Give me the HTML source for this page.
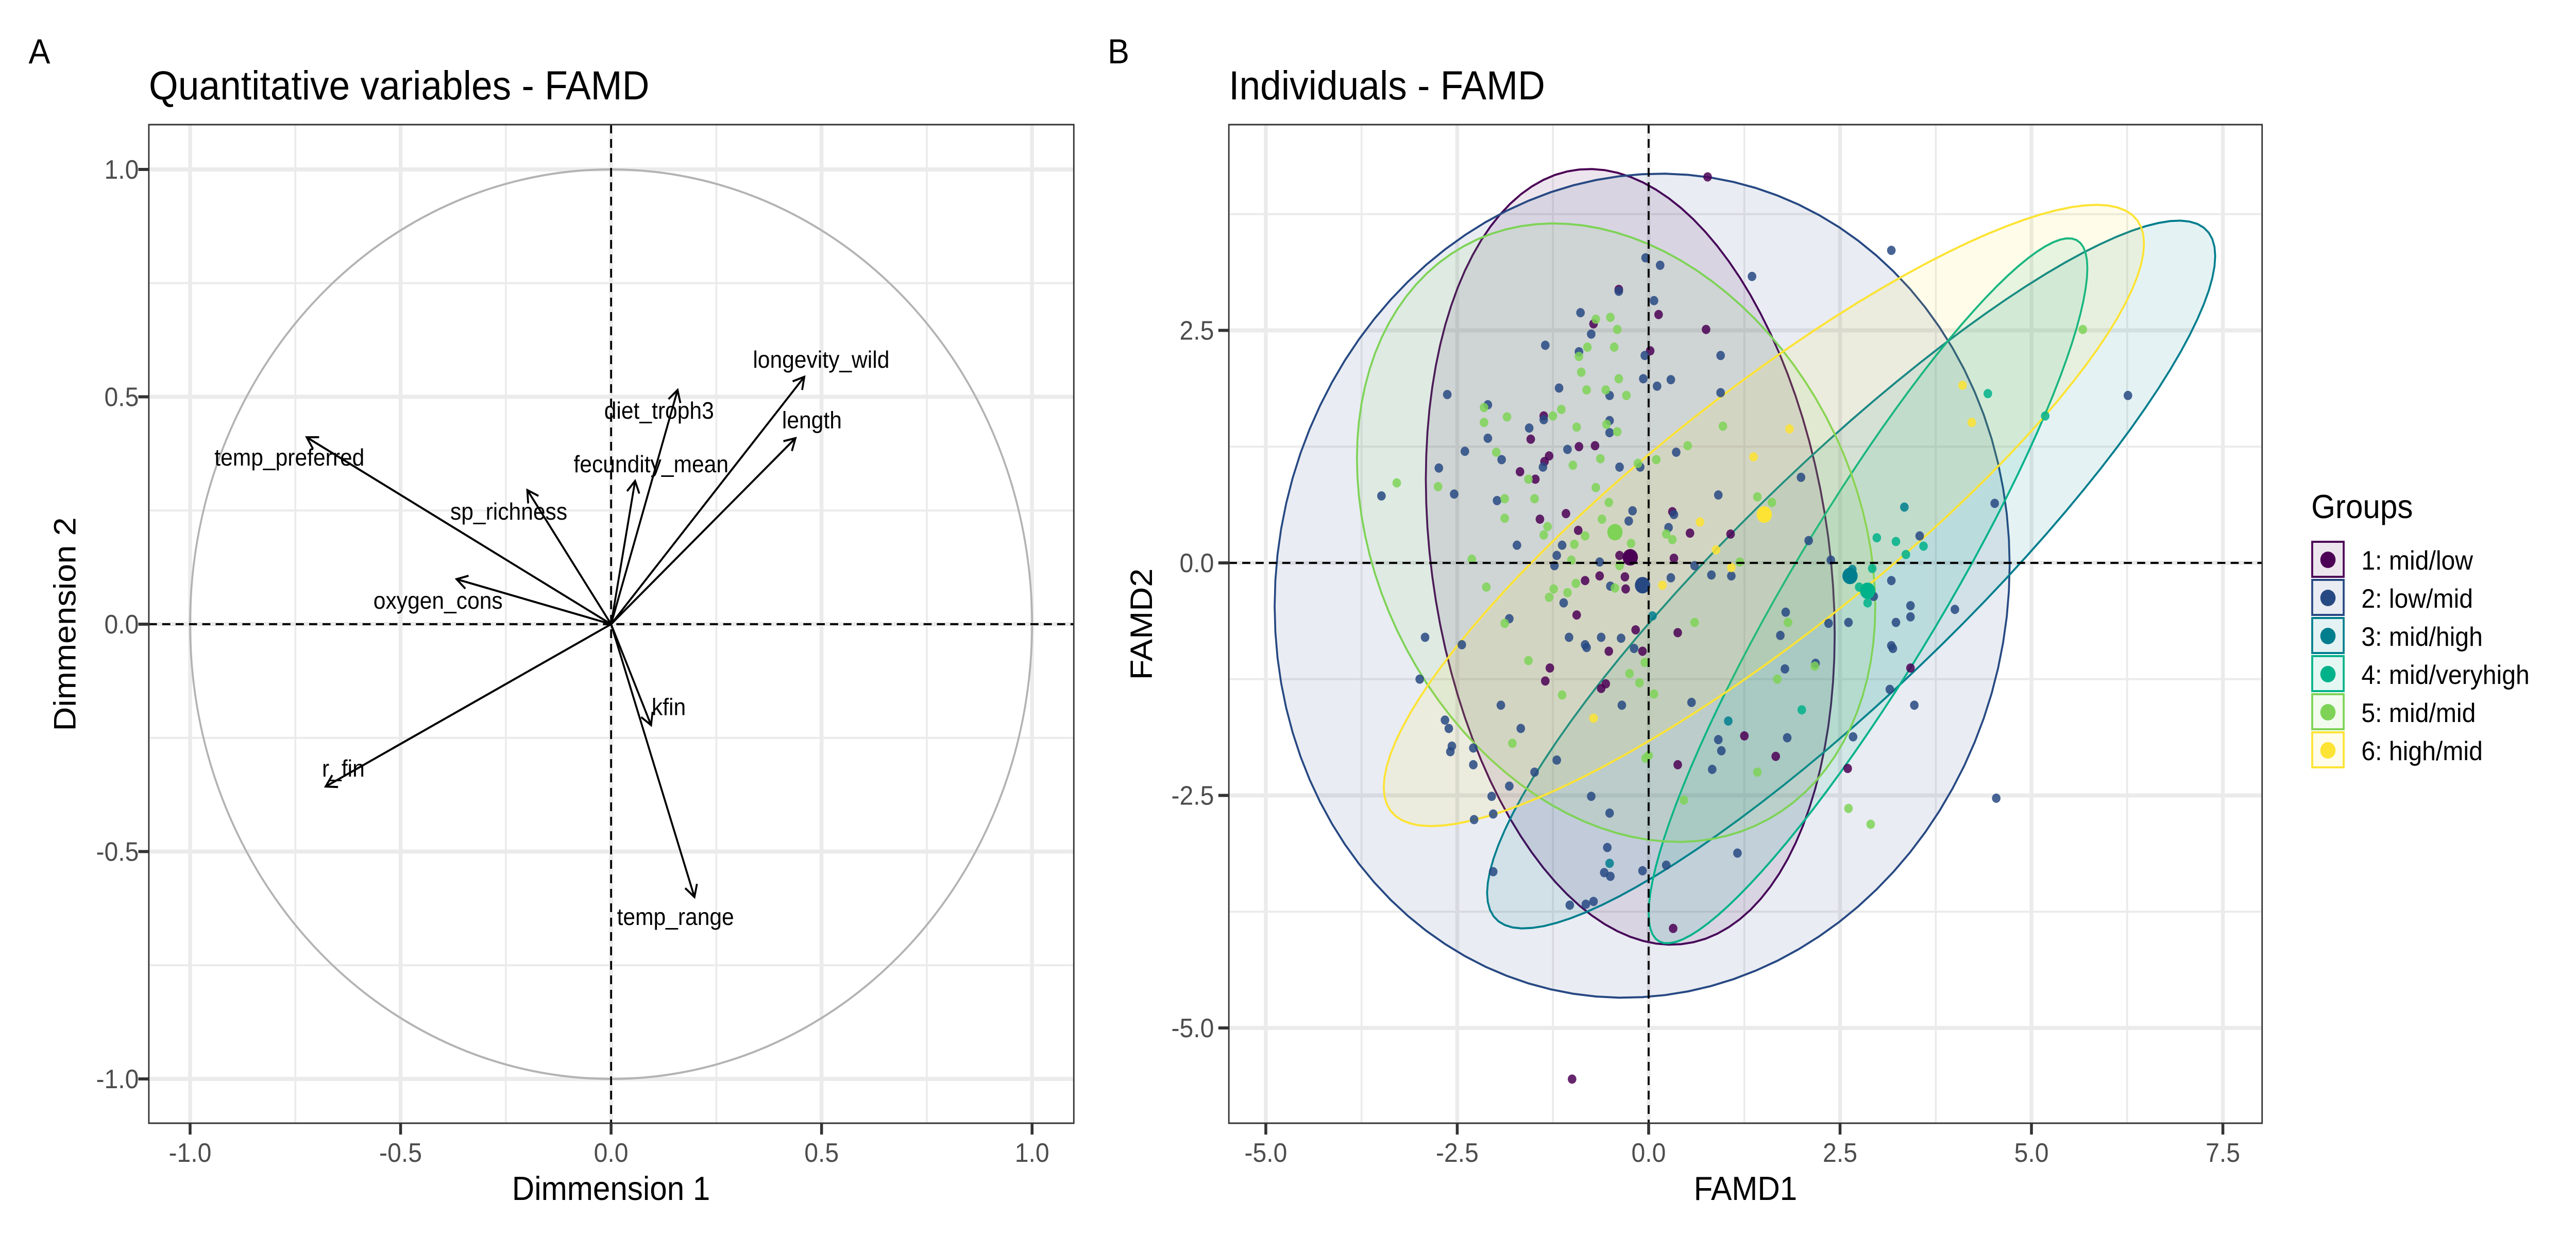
<!DOCTYPE html>
<html><head><meta charset="utf-8"><style>
html,body{margin:0;padding:0;background:#fff;overflow:hidden;}
svg{display:block;font-family:"Liberation Sans",Arial,sans-serif;width:100vw;height:100vh;}
</style></head><body>
<svg id="fig" viewBox="0 0 5400 2400" preserveAspectRatio="none" xmlns="http://www.w3.org/2000/svg">
<rect x="0" y="0" width="5400" height="2400" fill="#fff"/>
<text x="60" y="123" font-size="68">A</text>
<text x="2322" y="123" font-size="68">B</text>
<text x="312" y="193" font-size="79">Quantitative variables - FAMD</text>
<text x="2576" y="193" font-size="79">Individuals - FAMD</text>
<text x="1281" y="2330" font-size="65" text-anchor="middle">Dimmension 1</text>
<text transform="translate(158,1212) rotate(-90)" font-size="65" text-anchor="middle">Dimmension 2</text>
<text x="3659" y="2330" font-size="65" text-anchor="middle">FAMD1</text>
<text transform="translate(2415,1212) rotate(-90)" font-size="65" text-anchor="middle">FAMD2</text>
<g id="panelA"></g>
<g id="panelB"></g>
<g id="legend">
<text x="4845" y="1006" font-size="65">Groups</text>
</g>
</svg>
<script>
// ---------- Panel A data ----------
const varNames = ["temp_preferred","longevity_wild","length","diet_troph3","fecundity_mean","sp_richness","oxygen_cons","r_fin","kfin","temp_range"];
const varDim1 = [-0.723,0.459,0.438,0.158,0.057,-0.199,-0.367,-0.678,0.095,0.198];
const varDim2 = [0.411,0.544,0.409,0.515,0.315,0.295,0.099,-0.357,-0.222,-0.600];
const labDim1 = [-0.764,0.499,0.477,0.114,0.095,-0.243,-0.411,-0.636,0.137,0.153];
const labDim2 = [0.367,0.582,0.449,0.470,0.352,0.248,0.052,-0.317,-0.182,-0.643];
const ticksA = [-1.0,-0.5,0.0,0.5,1.0];
const tickLabelsA = ["-1.0","-0.5","0.0","0.5","1.0"];
const minorA = [-0.75,-0.25,0.25,0.75];

// ---------- Panel B data ----------
const groupNames = ["1: mid/low","2: low/mid","3: mid/high","4: mid/veryhigh","5: mid/mid","6: high/mid"];
const groupColors = ["#4B0055","#274983","#007E8E","#00B28A","#7ED357","#FDE333"];
const ellCx = [-0.24,-0.085,2.645,2.865,-0.425,1.505];
const ellCy = [0.065,-0.245,-0.125,-0.30,0.325,0.51];
const ellW  = [2.67,4.80,4.755,2.865,3.385,4.965];
const ellH  = [4.17,4.43,3.805,3.79,3.325,3.34];
const ellR  = [-0.20,0.05,0.90,0.915,-0.24,0.875];
const meanX = [-0.24,-0.08,2.63,2.86,-0.44,1.51];
const meanY = [0.06,-0.24,-0.14,-0.30,0.33,0.52];
const ticksBx = [-5.0,-2.5,0.0,2.5,5.0,7.5];
const tickLabelsBx = ["-5.0","-2.5","0.0","2.5","5.0","7.5"];
const minorBx = [-3.75,-1.25,1.25,3.75,6.25];
const ticksBy = [-5.0,-2.5,0.0,2.5];
const tickLabelsBy = ["-5.0","-2.5","0.0","2.5"];
const minorBy = [-3.75,-1.25,1.25,3.75];

const pts1 = [[0.77,4.15],[-0.39,2.94],[-0.72,2.57],[0.13,2.67],[0.75,2.51],[0.02,2.28],[-1.37,1.58],[-1.54,1.33],[-0.91,1.25],[-0.70,1.26],[-1.30,1.15],[-1.36,1.09],[-1.68,0.98],[-1.48,0.90],[-1.08,0.53],[-1.42,0.47],[0.31,0.55],[-0.92,0.35],[0.54,0.32],[1.07,0.31],[-0.38,0.08],[0.33,0.05],[-0.83,-0.19],[-0.64,-0.14],[-0.30,-0.28],[-0.31,-0.15],[-0.94,-0.56],[-0.17,-0.72],[0.38,-0.75],[-0.52,-0.95],[-0.08,-0.95],[-1.29,-1.13],[-1.35,-1.27],[-0.62,-1.35],[-0.56,-1.30],[3.42,-1.13],[1.25,-1.86],[1.66,-2.08],[2.60,-2.21],[0.38,-2.17],[0.32,-3.93],[-1.00,-5.55]];
const pts2 = [[3.17,3.36],[1.35,3.08],[-0.04,3.28],[0.15,3.20],[-0.39,2.92],[0.07,2.82],[-0.89,2.69],[-0.75,2.46],[-1.35,2.34],[-0.91,2.27],[-0.05,2.23],[0.94,2.23],[-0.07,1.98],[0.11,1.90],[0.29,1.97],[-1.17,1.88],[-2.63,1.81],[-2.10,1.70],[0.94,1.83],[-0.51,1.80],[-1.37,1.54],[-1.56,1.45],[-2.10,1.34],[-0.51,1.53],[-0.51,1.40],[-1.06,1.22],[-2.40,1.20],[-1.92,1.11],[0.36,1.19],[-2.74,1.02],[-1.38,1.03],[-0.38,1.03],[-0.11,1.03],[1.99,0.92],[-3.49,0.72],[-2.54,0.74],[-1.98,0.67],[0.91,0.73],[-0.21,0.56],[0.33,0.52],[-0.26,0.45],[0.26,0.38],[2.09,0.24],[-1.72,0.19],[-1.13,0.19],[-1.20,0.08],[-1.23,-0.03],[-0.64,0.01],[0.60,-0.03],[2.38,0.03],[-0.50,-0.25],[0.82,-0.13],[1.08,-0.14],[0.29,-0.16],[-1.11,-0.43],[-1.82,-0.60],[-2.92,-0.80],[-1.04,-0.80],[-0.62,-0.80],[-0.36,-0.81],[1.79,-0.53],[1.72,-0.78],[2.35,-0.65],[2.61,-0.64],[-2.44,-0.88],[-0.83,-0.88],[-0.81,-0.91],[-0.19,-0.92],[-2.99,-1.25],[-0.35,-1.53],[0.56,-1.50],[-1.93,-1.53],[-2.66,-1.69],[-2.61,-1.78],[-1.67,-1.78],[1.78,-1.14],[2.18,-1.08],[3.15,-1.36],[3.47,-1.53],[3.17,-0.89],[3.19,-0.92],[3.23,-0.64],[3.42,-0.58],[3.42,-0.46],[3.17,-0.19],[2.94,-0.36],[4.00,-0.50],[4.52,0.64],[6.26,1.80],[3.54,0.29],[0.91,-1.90],[0.95,-2.02],[1.81,-1.88],[2.67,-1.87],[0.83,-2.22],[-2.57,-1.97],[-2.59,-2.03],[-2.29,-2.17],[-2.29,-1.99],[-1.20,-2.12],[-1.49,-2.25],[-1.82,-2.40],[-2.05,-2.51],[-0.75,-2.51],[-2.03,-2.70],[-2.28,-2.76],[-0.51,-2.69],[-0.54,-3.06],[1.16,-3.12],[4.54,-2.53],[-2.03,-3.32],[-0.58,-3.33],[-0.50,-3.37],[-0.08,-3.31],[0.23,-3.25],[-1.03,-3.68],[-0.82,-3.67],[-0.72,-3.64]];
const pts3 = [[0.05,-0.57],[1.04,-1.70],[-0.51,-3.23],[3.34,0.60],[2.66,-0.07]];
const pts4 = [[2.98,0.27],[3.23,0.23],[3.59,0.18],[3.36,0.09],[2.92,-0.06],[2.86,-0.43],[2.75,-0.26],[4.43,1.82],[5.18,1.58],[2.00,-1.58]];
const pts5 = [[-3.29,0.86],[-2.75,0.82],[-2.31,0.04],[-2.12,-0.26],[-1.88,-0.65],[-1.57,-1.05],[-1.13,-1.42],[-1.78,-1.94],[-1.99,1.19],[-1.88,0.48],[-1.88,0.69],[-2.15,1.51],[-2.15,1.67],[-1.85,1.57],[-1.57,0.90],[-1.49,0.69],[-1.37,0.30],[-1.32,0.39],[-1.25,1.58],[-1.14,1.65],[-0.99,1.05],[-0.94,1.46],[-0.91,2.22],[-0.80,2.32],[-0.88,2.05],[-0.69,2.62],[-0.50,2.64],[-0.41,2.51],[-0.45,2.32],[-0.81,1.86],[-0.56,1.86],[-0.39,1.98],[-0.29,1.80],[-0.55,1.49],[-0.41,1.41],[-0.69,0.81],[-0.63,1.12],[-0.52,0.65],[-0.61,0.47],[-0.23,0.21],[-0.14,1.07],[0.10,1.11],[0.51,1.26],[0.31,0.25],[0.23,0.31],[0.97,1.47],[1.42,0.71],[1.61,0.65],[1.19,0.01],[-1.24,-0.28],[-1.30,-0.37],[-1.01,0.03],[-0.97,0.20],[-0.83,0.29],[-1.06,-0.32],[-0.95,-0.22],[-0.44,-0.27],[-0.25,-1.19],[-0.12,-1.29],[0.07,-1.41],[-0.05,-1.07],[0.00,-2.07],[-0.04,-2.10],[0.60,-0.64],[1.82,-0.64],[1.68,-1.25],[2.17,-1.11],[1.42,-2.25],[0.46,-2.55],[2.61,-2.64],[2.90,-2.81],[5.67,2.51],[-0.38,-0.03]];
const pts6 = [[4.10,1.91],[4.22,1.51],[1.84,1.44],[1.37,1.14],[0.67,0.44],[0.18,-0.24],[1.08,-0.05],[-0.72,-1.67],[0.88,0.14]];

// ---------- helpers ----------
const NS = "http://www.w3.org/2000/svg";
function mk(tag, attrs, parent){const e=document.createElementNS(NS,tag);for(const k in attrs)e.setAttribute(k,attrs[k]);parent.appendChild(e);return e;}

const A = {l:312,r:2251,t:242,b:2181};
const xA = v => 1281 + v*882.5;
const yA = v => 1212 - v*883;
const B = {l:2576,r:4742,t:242,b:2181};
const xB = v => 3456 + v*160.5;
const yB = v => 1093 - v*180.6;

function drawFrame(g, P, xs, ys, minX, majX, minY, majY, labX, labY, yLabRight, name){
  for (const v of minX){const l=mk("line",{x1:xs(v),x2:xs(v),y1:P.t,y2:P.b,stroke:"#ebebeb","stroke-width":4},g);}
  for (const v of minY){const l=mk("line",{x1:P.l,x2:P.r,y1:ys(v),y2:ys(v),stroke:"#ebebeb","stroke-width":4},g);}
  majX.forEach((v,i)=>{
    const l=mk("line",{x1:xs(v),x2:xs(v),y1:P.t,y2:P.b,stroke:"#ebebeb","stroke-width":8},g);
    
    
    const tk=mk("line",{x1:xs(v),x2:xs(v),y1:P.b,y2:P.b+22,stroke:"#333","stroke-width":6},g);
    
    
    const t=mk("text",{x:xs(v),y:P.b+75,"font-size":52,"text-anchor":"middle",fill:"#4d4d4d"},g);
    t.textContent=labX[i];
    
    
  });
  majY.forEach((v,i)=>{
    const l=mk("line",{x1:P.l,x2:P.r,y1:ys(v),y2:ys(v),stroke:"#ebebeb","stroke-width":8},g);
    
    
    const tk=mk("line",{x1:P.l-22,x2:P.l,y1:ys(v),y2:ys(v),stroke:"#333","stroke-width":6},g);
    
    
    const t=mk("text",{x:yLabRight,y:ys(v)+18,"font-size":52,"text-anchor":"end",fill:"#4d4d4d"},g);
    t.textContent=labY[i];
    
    
  });
}
function drawAxesLines(g,P,xs,ys,name){
  const a=mk("line",{x1:xs(0),x2:xs(0),y1:P.t,y2:P.b,stroke:"#000","stroke-width":4,"stroke-dasharray":"17 11"},g);
  
  
  const b=mk("line",{x1:P.l,x2:P.r,y1:ys(0),y2:ys(0),stroke:"#000","stroke-width":4,"stroke-dasharray":"17 11"},g);
  
  
}
function drawBorder(g,P,name){
  const r=mk("rect",{x:P.l,y:P.t,width:P.r-P.l,height:P.b-P.t,fill:"none",stroke:"#333","stroke-width":3},g);
  
  
}

// ---------- Panel A ----------
const gA=document.getElementById("panelA");
drawFrame(gA,A,xA,yA,minorA,ticksA,minorA,ticksA,tickLabelsA,tickLabelsA,291,'panel-a');
const circ=mk("ellipse",{cx:xA(0),cy:yA(0),rx:xA(1)-xA(0),ry:yA(0)-yA(1),fill:"none",stroke:"#b3b3b3","stroke-width":4},gA);


drawAxesLines(gA,A,xA,yA,'panel-a');
varNames.forEach((nm,i)=>{
  const x0=xA(0),y0=yA(0),x1=xA(varDim1[i]),y1=yA(varDim2[i]);
  const ln=mk("line",{x1:x0,y1:y0,x2:x1,y2:y1,stroke:"#000","stroke-width":4},gA);
  
  
  const ang=Math.atan2(y1-y0,x1-x0), L=26, da=Math.PI/6;
  const p=`M${x1-L*Math.cos(ang-da)},${y1-L*Math.sin(ang-da)} L${x1},${y1} L${x1-L*Math.cos(ang+da)},${y1-L*Math.sin(ang+da)}`;
  const hd=mk("path",{d:p,fill:"none",stroke:"#000","stroke-width":4},gA);
  
  
  const t=mk("text",{x:xA(labDim1[i]),y:yA(labDim2[i])+16,"font-size":46,"text-anchor":"middle",fill:"#000"},gA);
  t.textContent=nm;
  
  
});
drawBorder(gA,A,'panel-a');

// ---------- Panel B ----------
const gB=document.getElementById("panelB");
const clipB=mk("clipPath",{id:"clipB"},gB); mk("rect",{x:B.l,y:B.t,width:B.r-B.l,height:B.b-B.t},clipB);
drawFrame(gB,B,xB,yB,minorBx,ticksBx,minorBy,ticksBy,tickLabelsBx,tickLabelsBy,2545,'panel-b');
const gE=mk("g",{"clip-path":"url(#clipB)"},gB);
for(let k=0;k<6;k++){
  let d="";
  for(let s=0;s<=100;s++){
    const t=2*Math.PI*s/100;
    const x=ellCx[k]+ellW[k]*Math.cos(t);
    const y=ellCy[k]+ellH[k]*(ellR[k]*Math.cos(t)+Math.sqrt(1-ellR[k]*ellR[k])*Math.sin(t));
    d+=(s?"L":"M")+xB(x).toFixed(1)+","+yB(y).toFixed(1);
  }
  const e=mk("path",{d:d+"Z",fill:groupColors[k],"fill-opacity":0.1,stroke:groupColors[k],"stroke-width":4},gE);
  
  
}
drawAxesLines(gB,B,xB,yB,'panel-b');
const allPts=[pts1,pts2,pts3,pts4,pts5,pts6];
allPts.forEach((arr,k)=>{
  arr.forEach(p=>{
    const c=mk("circle",{cx:xB(p[0]),cy:yB(p[1]),r:9,fill:groupColors[k],"fill-opacity":0.85},gE);
    
    
  });
});
for(let k=0;k<6;k++){
  const c=mk("circle",{cx:xB(meanX[k]),cy:yB(meanY[k]),r:16,fill:groupColors[k]},gE);
  
  
}
drawBorder(gB,B,'panel-b');

// ---------- Legend ----------
const gL=document.getElementById("legend");
groupNames.forEach((nm,k)=>{
  const cy=1087+k*74;
  const r=mk("rect",{x:4847,y:cy-35,width:66,height:68,fill:groupColors[k],"fill-opacity":0.1,stroke:groupColors[k],"stroke-width":4},gL);
  
  
  const c=mk("circle",{cx:4880,cy:cy,r:16,fill:groupColors[k]},gL);
  
  
  const t=mk("text",{x:4950,y:cy+19,"font-size":52,fill:"#000"},gL);
  t.textContent=nm;
  
  
});
</script>
</body></html>
